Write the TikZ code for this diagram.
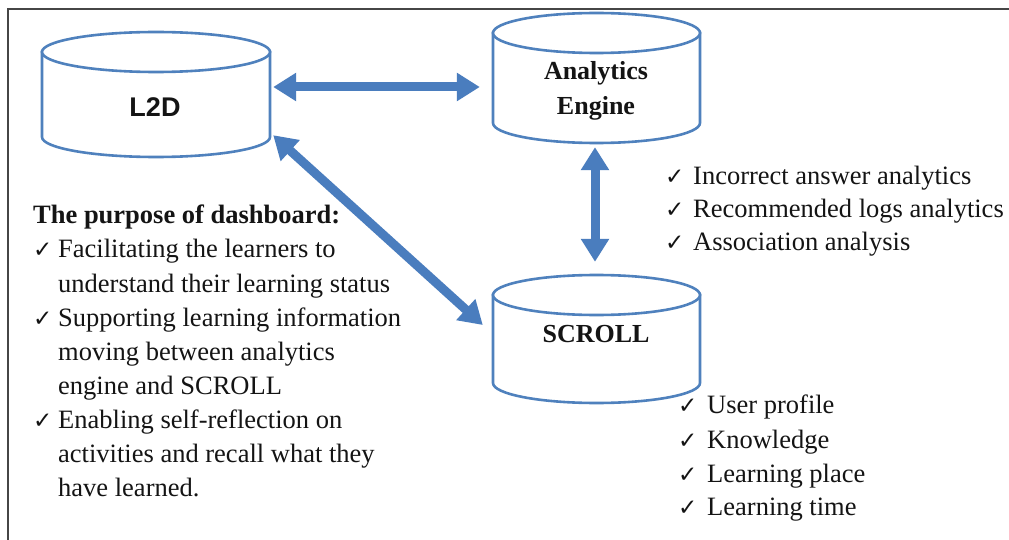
\documentclass[tikz,border=0pt]{standalone}
\usepackage{fontspec}
\setmainfont{Liberation Serif}
\newfontfamily\sansb{Liberation Sans}
\newfontfamily\dv{DejaVu Sans}
\usetikzlibrary{arrows.meta,calc}
\definecolor{cylblue}{RGB}{79,129,189}
\definecolor{arrblue}{RGB}{74,125,190}
\definecolor{txt}{RGB}{20,20,20}
\definecolor{frame}{RGB}{70,70,70}
\newcommand{\ck}{{\dv\fontsize{23}{23}\selectfont ✓}}
\begin{document}
\begin{tikzpicture}[x=1pt,y=-1pt,
  cyl/.style={draw=cylblue,line width=2.6pt,fill=white},
  hold/.style={draw=none,inner sep=0pt},
  dbl/.style={draw=arrblue,line width=9pt,{Triangle[length=23pt,width=27pt]}-{Triangle[length=23pt,width=27pt]}},
  item/.style={anchor=base west,inner sep=0pt,text=txt,font=\fontsize{26.5}{30}\selectfont},
  tick/.style={anchor=base west,inner sep=0pt,text=txt},
  head/.style={anchor=base,inner sep=0pt,text=txt,font=\bfseries\fontsize{26}{30}\selectfont}]
\useasboundingbox (0,0) rectangle (1009,540);
\fill[white] (0,0) rectangle (1009,540);
\draw[frame,line width=1.4pt] (8,540) -- (8,9) -- (1009,9);
% cylinders
\def\cylinder#1#2#3#4{% cx, a, yt, yb
  \draw[cyl] (#1-#2,#3) -- (#1-#2,#4) arc[start angle=180,end angle=0,x radius=#2,y radius=20] -- (#1+#2,#3) -- cycle;
  \draw[cyl] (#1,#3) ellipse[x radius=#2,y radius=20];}
\cylinder{156}{114}{52}{137}
\cylinder{596.5}{103.5}{33}{123}
\cylinder{596.5}{103.5}{295}{383}
\node[hold,minimum width=228pt,minimum height=125pt] (l2d) at (156,94.5) {};
\node[hold,minimum width=207pt,minimum height=130pt] (ae) at (596.5,78) {};
\node[hold,minimum width=207pt,minimum height=128pt] (scroll) at (596.5,339) {};
\node[anchor=base,inner sep=0pt,text=txt,font=\sansb\bfseries\fontsize{27}{30}\selectfont] (l2dt) at (155,117) {L2D};
\node[head] (aet1) at (596,80) {Analytics};
\node[head] (aet2) at (596,115) {Engine};
\node[head] (sct) at (596,342) {SCROLL};
% arrows
\draw[dbl] ($(l2d.east)+(3,-7.5)$) -- ($(ae.west)+(-13,9)$);
\draw[dbl] ($(ae.south)+(-1.5,4)$) -- ($(scroll.north)+(-1.5,-13)$);
\draw[dbl] ($(l2d.south east)+(3,-22)$) -- ($(scroll.west)+(-10,-14)$);
% left list
\node[item,font=\bfseries\fontsize{26.5}{30}\selectfont] (h0) at (33,224) {The purpose of dashboard:};
\node[tick] (c1) at (33,258) {\ck};
\node[item] (t1) at (58,258) {Facilitating the learners to};
\node[item] (t2) at (58,292) {understand their learning status};
\node[tick] (c2) at (33,326) {\ck};
\node[item] (t3) at (58,326) {Supporting learning information};
\node[item] (t4) at (58,360) {moving between analytics};
\node[item] (t5) at (58,394) {engine and SCROLL};
\node[tick] (c3) at (33,428) {\ck};
\node[item] (t6) at (58,428) {Enabling self-reflection on};
\node[item] (t7) at (58,462) {activities and recall what they};
\node[item] (t8) at (58,496) {have learned.};
% right list 1
\node[tick] (rc1) at (665,185) {\ck};
\node[item] (r1) at (693,185) {Incorrect answer analytics};
\node[tick] (rc2) at (665,218) {\ck};
\node[item] (r2) at (693,218) {Recommended logs analytics};
\node[tick] (rc3) at (665,251) {\ck};
\node[item] (r3) at (693,251) {Association analysis};
% right list 2
\node[tick] (sc1) at (678,413) {\ck};
\node[item] (s1) at (707,413) {User profile};
\node[tick] (sc2) at (678,448) {\ck};
\node[item] (s2) at (707,448) {Knowledge};
\node[tick] (sc3) at (678,482) {\ck};
\node[item] (s3) at (707,482) {Learning place};
\node[tick] (sc4) at (678,515) {\ck};
\node[item] (s4) at (707,515) {Learning time};
\end{tikzpicture}
\end{document}
